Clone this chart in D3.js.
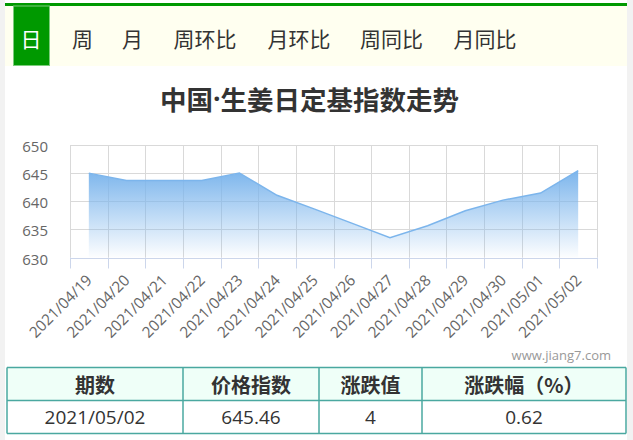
<!DOCTYPE html>
<html><head><meta charset="utf-8">
<script src="https://cdn.jsdelivr.net/npm/d3@7/dist/d3.min.js"></script>
<style>
html,body{margin:0;padding:0;background:#f2f2f2;}
svg{display:block;}
</style></head>
<body>
<svg id="c" width="633" height="440"></svg>
<script>
const tabs = ["日","周","月","周环比","月环比","周同比","月同比"];
const tabCenters = [31,82.5,132.5,205,299,391.5,485];
const titleParts = ["中国","·","生姜日定基指数走势"];
const categories = ["2021/04/19","2021/04/20","2021/04/21","2021/04/22","2021/04/23","2021/04/24","2021/04/25","2021/04/26","2021/04/27","2021/04/28","2021/04/29","2021/04/30","2021/05/01","2021/05/02"];
const values = [645.0,643.7,643.7,643.7,645.0,641.06,638.6,636.06,633.5,635.65,638.3,640.2,641.46,645.46];
const yTicks = [630,635,640,645,650];
const tableHeader = ["期数","价格指数","涨跌值","涨跌幅（%）"];
const tableRow = ["2021/05/02","645.46","4","0.62"];
const colEdges = [7,183,319,422,626];
const watermark = "www.jiang7.com";

const FONT = "'Open Sans','Noto Sans CJK SC',sans-serif";
const CJK = "'Noto Sans CJK SC',sans-serif";
const svg = d3.select("#c");

// page container
svg.append("rect").attr("x",5).attr("y",0).attr("width",622).attr("height",440).attr("fill","#fff");
// tab bar
svg.append("rect").attr("x",5).attr("y",6).attr("width",622).attr("height",60).attr("fill","#fffff0");
svg.append("rect").attr("x",5).attr("y",3).attr("width",622).attr("height",3).attr("fill","#009900");
svg.append("rect").attr("x",13.5).attr("y",6).attr("width",36).attr("height",59.5).attr("fill","#009900").attr("stroke","#7ccc7c").attr("stroke-width",1);
svg.selectAll("text.tab").data(tabs).join("text")
  .attr("class","tab")
  .attr("x",(d,i)=>tabCenters[i]).attr("y",38)
  .attr("text-anchor","middle").attr("dominant-baseline","central")
  .attr("font-family",CJK).attr("font-size",21)
  .attr("fill",(d,i)=>i===0?"#fff":"#333")
  .text(d=>d);

// title
const tt = svg.append("text").attr("x",309.5).attr("y",98).attr("text-anchor","middle").attr("dominant-baseline","central")
  .attr("font-size",26.5).attr("font-weight","bold").attr("fill","#333");
tt.selectAll("tspan").data(titleParts).join("tspan")
  .attr("font-family",(d,i)=>i===1?"'Open Sans',sans-serif":CJK)
  .text(d=>d);

// chart
const x = d3.scaleBand().domain(categories).range([70,597]).padding(0);
const y = d3.scaleLinear().domain([630,650]).range([257.5,145]);
const bw = x.bandwidth();
const cx = d => x(d)+bw/2;
const edges = categories.map(c=>x(c)).concat([x.range()[1]]);

const defs = svg.append("defs");
const g = defs.append("linearGradient").attr("id","ag").attr("x1",0).attr("y1",0).attr("x2",0).attr("y2",1);
g.append("stop").attr("offset","0%").attr("stop-color","#7cb5ec").attr("stop-opacity",1);
g.append("stop").attr("offset","100%").attr("stop-color","#7cb5ec").attr("stop-opacity",0.02);

// horizontal grid
svg.selectAll("line.hg").data(yTicks.filter(t=>t!==630)).join("line")
  .attr("x1",70).attr("x2",597).attr("y1",d=>Math.round(y(d))+0.5).attr("y2",d=>Math.round(y(d))+0.5)
  .attr("stroke","#d9d9d9").attr("stroke-width",1);
// vertical grid
svg.selectAll("line.vg").data(edges).join("line")
  .attr("x1",d=>Math.round(d)+0.5).attr("x2",d=>Math.round(d)+0.5)
  .attr("y1",y(650)).attr("y2",y(630))
  .attr("stroke","#d9d9d9").attr("stroke-width",1);

// area
const area = d3.area().x((d,i)=>cx(categories[i])).y0(y(630)).y1(d=>y(d));
svg.append("path").datum(values).attr("d",area).attr("fill","url(#ag)");
const line = d3.line().x((d,i)=>cx(categories[i])).y(d=>y(d));
svg.append("path").datum(values).attr("d",line).attr("fill","none").attr("stroke","#7cb5ec").attr("stroke-width",1.5);

// x axis line and ticks
svg.append("line").attr("x1",70).attr("x2",597).attr("y1",Math.round(y(630))+0.5).attr("y2",Math.round(y(630))+0.5).attr("stroke","#ccd6eb");
svg.selectAll("line.xt").data(edges).join("line")
  .attr("x1",d=>Math.round(d)+0.5).attr("x2",d=>Math.round(d)+0.5)
  .attr("y1",y(630)).attr("y2",y(630)+11)
  .attr("stroke","#ccd6eb");

// y labels
svg.selectAll("text.yl").data(yTicks).join("text")
  .attr("x",48).attr("y",d=>y(d)+1).attr("text-anchor","end").attr("dominant-baseline","central")
  .attr("font-family",FONT).attr("font-size",15).attr("fill","#666").text(d=>d);
// x labels
svg.selectAll("text.xl").data(categories).join("text")
  .attr("transform",d=>`translate(${cx(d)},${y(630)+19.5}) rotate(-45)`)
  .attr("text-anchor","end").attr("dominant-baseline","central")
  .attr("font-family",FONT).attr("font-size",15.3).attr("fill","#666").text(d=>d);

// watermark
svg.append("text").attr("x",611).attr("y",355).attr("text-anchor","end").attr("dominant-baseline","central")
  .attr("font-family",FONT).attr("font-size",13).attr("fill","#999").text(watermark);

// table
const tTop=367.5, rH=33;
svg.append("rect").attr("x",colEdges[0]).attr("y",tTop).attr("width",colEdges[4]-colEdges[0]).attr("height",rH).attr("fill","#effff8");
for(let r=0;r<3;r++){
  svg.append("line").attr("x1",colEdges[0]).attr("x2",colEdges[4]).attr("y1",tTop+r*rH).attr("y2",tTop+r*rH).attr("stroke","#4aa8a0").attr("stroke-width",1.5);
}
colEdges.forEach(e=>{
  svg.append("line").attr("x1",e).attr("x2",e).attr("y1",tTop).attr("y2",tTop+2*rH).attr("stroke","#4aa8a0").attr("stroke-width",1.5);
});
tableHeader.forEach((h,i)=>{
  svg.append("text").attr("x",(colEdges[i]+colEdges[i+1])/2).attr("y",tTop+rH/2).attr("text-anchor","middle").attr("dominant-baseline","central")
    .attr("font-family",CJK).attr("font-size",20).attr("font-weight","bold").attr("fill","#333").text(h);
});
tableRow.forEach((h,i)=>{
  svg.append("text").attr("x",(colEdges[i]+colEdges[i+1])/2).attr("y",tTop+rH*1.5).attr("text-anchor","middle").attr("dominant-baseline","central")
    .attr("font-family",FONT).attr("font-size",19).attr("fill","#333").text(h);
});
</script>
</body></html>
